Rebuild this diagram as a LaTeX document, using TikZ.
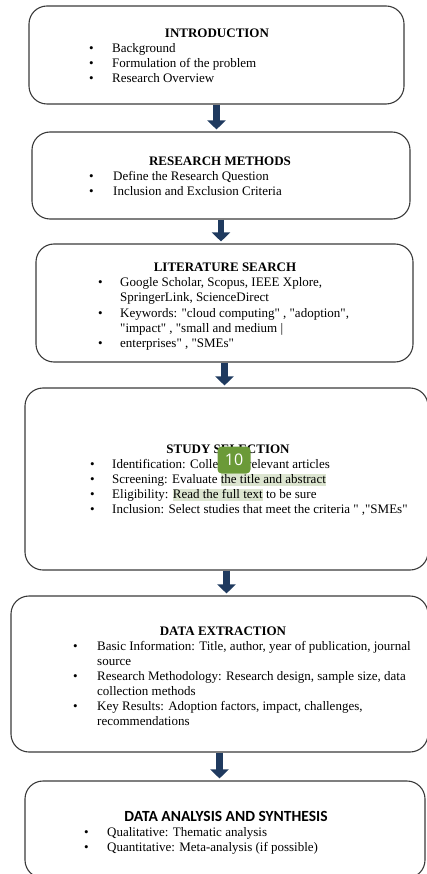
\documentclass[tikz,border=0pt]{standalone}
\usepackage{fontspec}
\setmainfont{Liberation Serif}
\newfontfamily\headsans{Carlito}
\newfontfamily\badgefont{Open Sans}
\usetikzlibrary{arrows.meta}

\definecolor{arrowblue}{HTML}{1F3A5F}
\definecolor{boxgray}{HTML}{3A3A3A}
\definecolor{hlgreen}{HTML}{DCE5D0}
\definecolor{badgegreen}{HTML}{6B9A38}

\newcommand{\hl}[1]{{\setlength{\fboxsep}{0pt}\colorbox{hlgreen}{\rule[-3pt]{0pt}{12pt}#1}}}
\newcommand{\blist}[2]{\begin{tabular}[t]{@{}p{#1pt}@{}l@{}}#2\end{tabular}}
\newcommand{\qq}{\textquotedbl}

\begin{document}
\begin{tikzpicture}[x=1pt, y=-1pt,
    stage/.style={draw=boxgray, line width=1.1pt, rounded corners=18pt, inner sep=0pt},
    heading/.style={anchor=base, inner sep=0pt, font=\fontsize{13}{15}\selectfont\bfseries},
    items/.style={anchor=base west, inner sep=0pt, font=\fontsize{13}{15}\selectfont},
    flow/.style={arrowblue, line width=6.5pt, -{Triangle[width=18pt,length=9pt]}, shorten >=2pt}]
  \useasboundingbox (0,0) rectangle (427,874);

  % the six stages
  \foreach \n/\cx/\cy/\w/\h in {b1/216.5/55/375/98, b2/221/175.5/378/87, b3/224.5/303/377/118,
      b4/226.5/479/403/182, b5/219.5/674/417/156, b6/225/829.5/400/97}
    \node[stage, minimum width=\w pt, minimum height=\h pt] (\n) at (\cx,\cy) {};

  % arrows between stages
  \foreach \a/\b in {b1/b2, b2/b3, b3/b4, b4/b5, b5/b6}
    \draw[flow] (\a.south) -- (\a.south |- \b.north);

  \node[heading] (h1) at (217,37.5) {INTRODUCTION};
  \node[items] (l1) at (89,52.5) {\blist{23}{%
    \textbullet & Background\\
    \textbullet & Formulation of the problem\\
    \textbullet & Research Overview}};

  \node[heading] (h2) at (220,166) {RESEARCH METHODS};
  \node[items] (l2) at (89,181) {\blist{24}{%
    \textbullet & Define the Research Question\\
    \textbullet & Inclusion and Exclusion Criteria}};

  \node[heading] (h3) at (225,272) {LITERATURE SEARCH};
  \node[items] (l3) at (98,287) {\blist{22}{%
    \textbullet & Google Scholar, Scopus, IEEE Xplore,\\
    & SpringerLink, ScienceDirect\\
    \textbullet & Keywords: \qq cloud computing\qq\ , \qq adoption\qq,\\
    & \qq impact\qq\ , \qq small and medium |\\
    \textbullet & enterprises\qq\ , \qq SMEs\qq}};

  \node[heading] (h4) at (228,453) {STUDY SELECTION};
  \node[items] (l4) at (90,468) {\blist{22}{%
    \textbullet & Identification: Collect all relevant articles\\
    \textbullet & Screening: Evaluate \hl{the title and abstract}\\
    \textbullet & Eligibility: \hl{Read the full text} to be sure\\
    \textbullet & Inclusion: Select studies that meet the criteria \qq\ ,\qq SMEs\qq}};

  \node[heading] (h5) at (223,635) {DATA EXTRACTION};
  \node[items] (l5) at (73,650) {\blist{24}{%
    \textbullet & Basic Information: Title, author, year of publication, journal\\
    & source\\
    \textbullet & Research Methodology: Research design, sample size, data\\
    & collection methods\\
    \textbullet & Key Results: Adoption factors, impact, challenges,\\
    & recommendations}};

  \node[heading, font=\fontsize{15.5}{17}\selectfont\headsans\bfseries] (h6) at (226,821) {DATA ANALYSIS AND SYNTHESIS};
  \node[items] (l6) at (84,836) {\blist{23}{%
    \textbullet & Qualitative: Thematic analysis\\
    \textbullet & Quantitative: Meta-analysis (if possible)}};

  % page marker over the study selection box
  \node[fill=badgegreen, rounded corners=4pt, minimum width=33pt, minimum height=27pt,
    text=white, font=\fontsize{16}{16}\selectfont\badgefont] (badge) at (234,460) {10};
\end{tikzpicture}
\end{document}
